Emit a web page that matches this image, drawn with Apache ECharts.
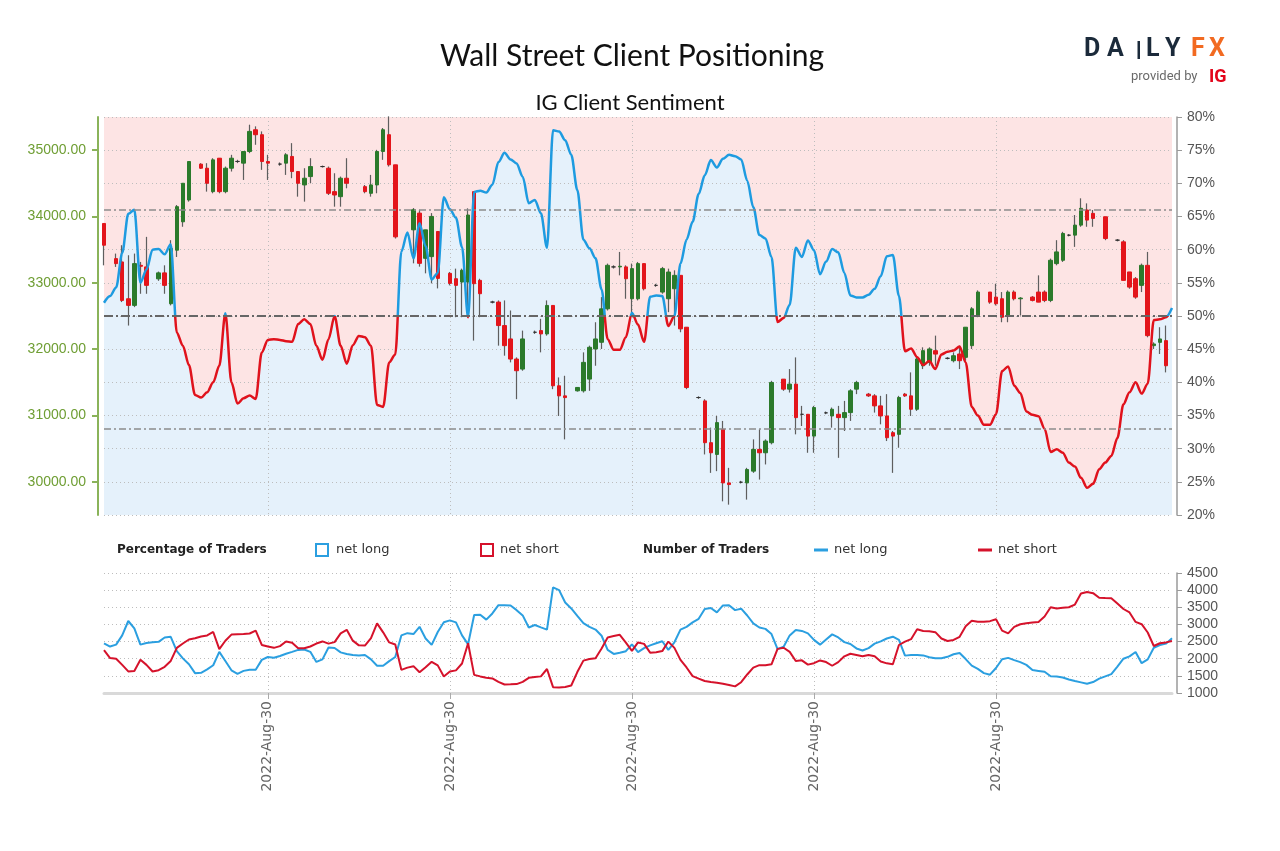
<!DOCTYPE html>
<html><head><meta charset="utf-8">
<script src="https://cdn.jsdelivr.net/npm/echarts@6/dist/echarts.min.js"></script>
<style>html,body{margin:0;padding:0;background:#fff}#c{width:1280px;height:851px}</style>
</head><body><div id="c"></div>
<script>
const chartTitle = 'Wall Street Client Positioning';
const chartSubtitle = 'IG Client Sentiment';
const xTickLabel = '2022-Aug-30';
const xTickIndex = [27, 57, 87, 117, 147];
const priceTicks = [30000, 31000, 32000, 33000, 34000, 35000];

// % of traders net long (0..176 days)
const netLongPct = [52.0,53.0,54.3,59.5,65.4,66.0,55.0,57.0,60.0,60.1,
59.3,60.8,47.5,45.5,42.6,38.1,37.7,38.5,40.0,42.5,
50.4,40.0,36.8,37.6,38.0,37.5,44.5,46.4,46.5,46.4,
46.2,46.1,48.8,49.5,48.8,45.5,43.4,46.5,50.0,45.5,
42.8,45.6,47.0,46.8,45.5,36.6,36.3,43.0,44.2,59.7,
62.6,58.7,64.0,60.5,55.5,56.5,67.9,66.1,64.8,60.4,
49.8,68.7,68.9,68.6,69.8,73.2,74.6,73.6,73.0,71.0,
67.0,67.5,65.5,60.3,78.0,77.8,76.5,74.3,69.0,61.5,
60.2,58.7,54.0,46.5,44.9,44.9,46.8,50.5,48.7,46.1,
52.9,53.1,53.0,48.5,50.0,57.9,61.5,64.2,68.4,71.2,
73.5,72.4,73.7,74.3,74.1,73.6,70.4,66.4,62.2,61.7,
58.9,49.1,49.7,51.7,60.3,58.9,61.4,59.9,56.3,58.2,
60.1,59.6,56.5,53.1,52.8,52.8,53.2,54.1,56.0,59.0,
59.2,53.0,44.7,45.1,43.8,42.6,43.2,42.0,44.2,44.6,
44.8,45.4,43.0,36.3,35.0,33.6,33.6,35.2,41.7,42.4,
39.5,38.4,35.6,35.1,34.9,33.0,29.5,29.9,29.4,27.9,
27.3,25.6,24.1,24.7,26.9,27.9,28.9,31.6,36.7,38.5,
40.0,38.3,39.8,49.4,49.5,49.8,51.2];

// price candles: day index, open, close, low, high
const candleDay = [0,2,3,4,5,6,7,9,10,11,12,13,14,16,17,18,19,20,21,22,23,24,25,26,27,29,30,31,32,33,34,36,37,38,39,40,43,44,45,46,47,48,51,52,53,54,55,57,58,59,60,61,62,64,65,66,67,68,69,71,72,73,74,75,76,78,79,80,81,82,83,84,85,86,87,88,89,91,92,93,94,95,96,98,99,100,101,102,103,105,106,107,108,109,110,112,113,114,115,116,117,119,120,121,122,123,124,126,127,128,129,130,131,132,133,134,135,136,137,139,140,141,142,143,144,146,147,148,149,150,151,153,154,155,156,157,158,159,160,161,162,163,165,167,168,169,170,171,172,173,174,175];
const candleOpen = [33895,33365,33315,32760,32660,33264,33240,33060,33150,32685,33492,33920,34249,34789,34728,34375,34879,34375,34728,34830,34804,34980,35308,35233,34829,34790,34804,34905,34678,34476,34602,34753,34728,34375,34299,34577,34450,34350,34476,34980,35233,34779,33799,34051,33370,33395,33774,33143,33062,33012,33012,34375,33037,32710,32710,32356,32154,31851,31700,32255,32280,32230,32659,31448,31296,31372,31372,31549,32003,32104,32608,33240,33240,33240,32760,32760,33290,32962,32861,32760,32911,33113,32331,31271,31220,30590,30413,30792,29984,29994,29984,30161,30489,30438,30590,31548,31397,31473,31018,31018,30690,31040,30993,31018,30968,31044,31397,31322,31296,31145,30993,30741,30716,31322,31296,31094,31750,31801,31977,31862,31826,31927,31877,32053,32507,32861,32785,32760,32507,32861,32760,32785,32861,32861,32735,33290,33340,33718,33719,33870,34098,34047,33996,33643,33618,33164,33062,32962,33264,32053,32103,32129];
const candleClose = [33567,33290,32735,32660,33290,33250,32962,33150,32962,33517,34148,34501,34829,34728,34501,34854,34375,34728,34879,34830,34980,35283,35233,34829,34804,34790,34930,34678,34501,34577,34753,34753,34350,34324,34577,34501,34375,34476,34980,35308,34779,33693,34102,33294,33799,34001,33067,32992,32962,33189,34022,32987,32836,32710,32356,32053,31851,31675,32154,32255,32230,32659,31448,31296,31270,31423,31801,32028,32154,32608,33264,33240,33250,33062,33214,33290,32911,32962,33214,33163,33113,32306,31422,31271,30590,30438,30893,29984,29959,29994,30186,30489,30438,30615,31498,31397,31473,30968,31018,30690,31120,31040,31094,30968,31044,31372,31498,31296,31145,30993,30665,30690,31271,31296,31094,31851,31977,32003,31926,31862,31901,31826,32331,32608,32861,32709,32684,32482,32861,32760,32770,32735,32709,32735,33340,33466,33744,33718,33870,34123,33946,33971,33668,33643,33037,32936,32785,33264,32204,32078,32154,31750];
const candleLow = [33264,33240,32710,32356,32634,32835,32835,33030,32835,32660,33390,33845,34224,34718,34375,34350,34350,34350,34678,34805,34551,34955,35081,34703,34551,34765,34627,34577,34299,34224,34501,34738,34324,34148,34148,34425,34350,34299,34350,34854,34753,33668,33294,33244,33143,32992,32916,32962,32482,32482,32482,32129,32482,32690,32053,31902,31801,31246,31675,32230,31952,32204,31397,30993,30640,31360,31346,31372,31750,32003,32583,33215,33113,32760,32508,32735,32886,32940,32836,32558,32356,32255,31397,31250,30413,30135,30161,29706,29656,29975,29732,30135,30034,30262,30565,31372,31346,30716,30842,30438,30438,31020,30817,30362,30766,30918,31322,31280,31044,30867,30615,30135,30514,31280,30993,31069,31700,31750,31750,31845,31801,31700,31826,32003,32482,32684,32659,32406,32406,32735,32507,32720,32709,32709,32709,33264,33315,33700,33542,33845,33845,33845,33643,33625,33037,32911,32760,32861,32179,32003,31927,31650];
const candleHigh = [33895,33441,33567,33416,33441,33315,33693,33170,33264,33643,34173,34501,34829,34804,34804,34879,34879,34753,34930,34855,34980,35384,35359,35283,34930,34815,34955,35106,34678,34728,34879,34768,34753,34652,34602,34879,34475,34627,35005,35334,35510,34779,34127,34102,33799,34051,33774,33164,33214,33214,34123,34375,33062,32730,32735,32735,32583,31876,32280,32280,32457,32735,32659,31574,31599,31430,31952,32053,32406,32785,33290,33265,33466,33264,33290,33315,33290,32985,33240,33214,33189,33113,32331,31290,31246,30817,30993,30918,30211,30015,30211,30640,30791,30640,31523,31548,31700,31876,31145,31018,31145,31060,31120,31145,31220,31397,31523,31340,31322,31296,31322,30766,31296,31340,31650,31902,32028,32028,32204,31880,31952,32053,32331,32634,32886,32861,32987,32861,32886,32886,32785,32800,33113,32886,33365,33643,33769,33735,34022,34274,34198,34098,33996,33660,33643,33164,33087,33290,33466,32103,32331,32356];

// number of traders
const netLongCount = [2450,2355,2410,2680,3100,2885,2410,2460,2479,2492,
2620,2640,2220,2010,1840,1579,1590,1690,1810,2200,
1935,1662,1560,1645,1676,1676,1966,2050,2027,2080,
2145,2200,2257,2270,2200,1907,1980,2325,2312,2185,
2140,2107,2094,2110,1980,1793,1795,1930,2050,2680,
2745,2720,2930,2590,2402,2780,3062,3118,3060,2680,
2420,3277,3285,3140,3320,3562,3562,3550,3417,3263,
2910,2982,2915,2850,4080,4000,3640,3466,3250,3040,
2928,2850,2670,2260,2140,2173,2220,2420,2190,2310,
2390,2450,2510,2260,2480,2850,2930,3060,3163,3450,
3480,3350,3555,3560,3417,3460,3260,3030,2910,2870,
2720,2280,2350,2680,2840,2810,2740,2550,2410,2560,
2710,2620,2485,2430,2300,2240,2310,2440,2505,2590,
2643,2550,2090,2111,2111,2097,2045,2015,2015,2055,
2130,2165,1990,1800,1705,1580,1535,1730,1985,2025,
1960,1900,1820,1670,1645,1620,1490,1483,1450,1395,
1350,1310,1270,1320,1420,1485,1550,1770,2000,2070,
2195,1870,1980,2320,2400,2440,2595];
const netShortCount = [2250,2020,1998,1820,1630,1640,1970,1820,1628,1665,
1765,1935,2315,2444,2560,2595,2650,2680,2780,2280,
2525,2703,2711,2718,2735,2818,2402,2357,2317,2367,
2500,2463,2305,2305,2356,2443,2504,2440,2484,2740,
2843,2527,2390,2382,2600,3030,2770,2475,2413,1676,
1740,1783,1603,1752,1910,1806,1480,1628,1660,1860,
2450,1529,1484,1447,1426,1325,1248,1252,1260,1326,
1442,1466,1485,1700,1170,1163,1175,1218,1610,1945,
1990,2012,2300,2617,2660,2697,2470,2230,2475,2433,
2177,2189,2222,2500,2315,1965,1745,1492,1420,1350,
1318,1297,1270,1236,1193,1315,1540,1740,1812,1810,
1838,2287,2320,2200,1935,1952,1828,1870,1950,1902,
1795,1900,2070,2144,2110,2070,2110,2070,1920,1865,
1840,2400,2500,2570,2860,2808,2800,2775,2590,2516,
2547,2640,2950,3110,3079,3079,3096,3150,2820,2740,
2928,3006,3035,3056,3071,3230,3503,3467,3484,3500,
3580,3903,3945,3912,3778,3770,3763,3610,3450,3350,
3073,3007,2765,2370,2450,2476,2518];

const days = netLongPct.map((_, i) => String(i));
const wickData = candleDay.map((d, k) => [d, candleOpen[k], candleClose[k], candleLow[k], candleHigh[k]]);
const bodyData = candleDay.map((d, k) => [d, candleOpen[k], candleClose[k], Math.min(candleOpen[k], candleClose[k]), Math.max(candleOpen[k], candleClose[k])]);
const isTick = (idx) => xTickIndex.indexOf(idx) >= 0;

const BLUE = '#1e9be0', RED = '#e0121c';
const GRID_TOP = 117, GRID_H = 398, PCT_MIN = 20, PCT_MAX = 80, SPLIT = 50;
const splitFrac = (PCT_MAX - SPLIT) / (PCT_MAX - PCT_MIN);
const lineGradient = new echarts.graphic.LinearGradient(0, GRID_TOP, 0, GRID_TOP + GRID_H, [
  { offset: 0, color: BLUE }, { offset: splitFrac, color: BLUE },
  { offset: splitFrac, color: RED }, { offset: 1, color: RED }
], true);

const chart = echarts.init(document.getElementById('c'));
const dotted = { type: [1, 3], color: '#bdbdbd', width: 1 };
const SMOOTH = 0.3;

chart.setOption({
  animation: false,
  backgroundColor: '#fff',
  grid: [
    { left: 104, top: GRID_TOP, width: 1068, height: GRID_H, show: true, backgroundColor: '#fde4e4', borderWidth: 0 },
    { left: 104, top: 573, width: 1068, height: 120, show: false }
  ],
  xAxis: [
    { type: 'category', gridIndex: 0, data: days, boundaryGap: false, z: 2,
      axisLine: { show: false }, axisTick: { show: false }, axisLabel: { show: false },
      splitLine: { show: true, interval: isTick, lineStyle: dotted } },
    { type: 'category', gridIndex: 1, data: days, boundaryGap: false,
      axisLine: { show: true, lineStyle: { color: '#d9d9d9', width: 3 } },
      axisTick: { show: true, interval: isTick, length: 6, lineStyle: { color: '#aaa' } },
      axisLabel: { show: true, interval: isTick, rotate: 90, formatter: () => xTickLabel,
        fontFamily: 'DejaVu Sans', fontSize: 14, color: '#666', margin: 8 },
      splitLine: { show: true, interval: isTick, lineStyle: dotted } }
  ],
  yAxis: [
    { type: 'value', gridIndex: 0, position: 'left', offset: 6, min: 29500, max: 35500,
      axisLine: { show: true, lineStyle: { color: '#8ab35a', width: 2 } },
      axisTick: { show: true, customValues: priceTicks, length: 6, lineStyle: { color: '#8ab35a', width: 2 } },
      axisLabel: { customValues: priceTicks, formatter: v => Number(v).toFixed(2), color: '#6f9e34',
        fontFamily: 'Liberation Sans', fontSize: 14, margin: 12 },
      splitLine: { show: false } },
    { type: 'value', gridIndex: 0, position: 'right', offset: 5, min: PCT_MIN, max: PCT_MAX, interval: 5, z: 2,
      axisLine: { show: true, lineStyle: { color: '#9a9a9a', width: 1.5 } },
      axisTick: { show: true, length: 5, lineStyle: { color: '#9a9a9a' } },
      axisLabel: { formatter: '{value}%', color: '#555', fontFamily: 'Liberation Sans', fontSize: 14, margin: 10 },
      splitLine: { show: true, lineStyle: dotted } },
    { type: 'value', gridIndex: 1, position: 'right', offset: 5, min: 1000, max: 4500, interval: 500,
      axisLine: { show: true, lineStyle: { color: '#9a9a9a', width: 1.5 } },
      axisTick: { show: true, length: 5, lineStyle: { color: '#9a9a9a' } },
      axisLabel: { formatter: v => String(v), color: '#555', fontFamily: 'Liberation Sans', fontSize: 14, margin: 10 },
      splitLine: { show: true, lineStyle: dotted } }
  ],
  series: [
    { name: 'fill', type: 'line', xAxisIndex: 0, yAxisIndex: 1, data: netLongPct, symbol: 'none', z: 1, silent: true,
      smooth: SMOOTH, smoothMonotone: 'x',
      lineStyle: { width: 0 }, areaStyle: { color: '#e5f1fb', opacity: 1, origin: 'start' },
      markLine: { symbol: 'none', silent: true, label: { show: false },
        data: [
          { yAxis: 50, lineStyle: { color: '#666', width: 2, type: [9, 3, 2, 3] } },
          { yAxis: 66, lineStyle: { color: '#8c8c8c', width: 1.5, type: [7, 3, 2, 3] } },
          { yAxis: 33, lineStyle: { color: '#8c8c8c', width: 1.5, type: [7, 3, 2, 3] } }
        ] } },
    { name: 'wick', type: 'candlestick', xAxisIndex: 0, yAxisIndex: 0, data: wickData, encode: { x: 0, y: [1, 2, 3, 4] },
      barWidth: 1, z: 3,
      itemStyle: { color: '#5e5e5e', color0: '#5e5e5e', borderColor: '#5e5e5e', borderColor0: '#5e5e5e', borderColorDoji: '#5e5e5e', borderWidth: 1.2 } },
    { name: 'body', type: 'candlestick', xAxisIndex: 0, yAxisIndex: 0, data: bodyData, encode: { x: 0, y: [1, 2, 3, 4] },
      barWidth: 4, z: 3,
      itemStyle: { color: '#2b7a2b', color0: '#e3151b', borderColor: '#2b7a2b', borderColor0: '#e3151b', borderColorDoji: '#333', borderWidth: 1 } },
    { name: 'net long %', type: 'line', xAxisIndex: 0, yAxisIndex: 1, data: netLongPct, symbol: 'none', z: 4,
      smooth: SMOOTH, smoothMonotone: 'x',
      lineStyle: { width: 2.5, color: lineGradient } },
    { name: 'net long', type: 'line', xAxisIndex: 1, yAxisIndex: 2, data: netLongCount, symbol: 'none', z: 4,
      lineStyle: { width: 2, color: '#2b9fe0' }, itemStyle: { color: '#2b9fe0' } },
    { name: 'net short', type: 'line', xAxisIndex: 1, yAxisIndex: 2, data: netShortCount, symbol: 'none', z: 4,
      lineStyle: { width: 2, color: '#d5122b' }, itemStyle: { color: '#d5122b' } }
  ],
  graphic: [
    { type: 'text', x: 632, y: 56, style: { text: chartTitle, font: '30px Lato', fill: '#111', align: 'center', verticalAlign: 'middle' } },
    { type: 'text', x: 630, y: 103, style: { text: chartSubtitle, font: '22px Lato', fill: '#111', align: 'center', verticalAlign: 'middle' } },
    { type: 'text', x: 1084, y: 50, style: { text: 'D', font: 'bold 25px Roboto', fill: '#1b2a3a', verticalAlign: 'middle' } },
    { type: 'text', x: 1107, y: 50, style: { text: 'A', font: 'bold 25px Roboto', fill: '#1b2a3a', verticalAlign: 'middle' } },
    { type: 'rect', shape: { x: 1137.5, y: 41, width: 2.5, height: 18 }, style: { fill: '#1b2a3a' } },
    { type: 'text', x: 1146, y: 50, style: { text: 'L', font: 'bold 25px Roboto', fill: '#1b2a3a', verticalAlign: 'middle' } },
    { type: 'text', x: 1165, y: 50, style: { text: 'Y', font: 'bold 25px Roboto', fill: '#1b2a3a', verticalAlign: 'middle' } },
    { type: 'text', x: 1191, y: 50, style: { text: 'F', font: 'bold 25px Roboto', fill: '#f26a21', verticalAlign: 'middle' } },
    { type: 'text', x: 1209, y: 50, style: { text: 'X', font: 'bold 25px Roboto', fill: '#f26a21', verticalAlign: 'middle' } },
    { type: 'text', x: 1131, y: 77, style: { text: 'provided by', font: '13px Roboto', fill: '#6a6a6a', verticalAlign: 'middle' } },
    { type: 'text', x: 1209, y: 77, style: { text: 'IG', font: 'bold 18px Roboto', fill: '#e3051b', verticalAlign: 'middle' } },
    { type: 'text', x: 117, y: 550, style: { text: 'Percentage of Traders', font: 'bold 12px "DejaVu Sans"', fill: '#222', verticalAlign: 'middle' } },
    { type: 'rect', shape: { x: 316, y: 544, width: 12, height: 12 }, style: { fill: '#fff', stroke: '#2b9fe0', lineWidth: 2 } },
    { type: 'text', x: 336, y: 550, style: { text: 'net long', font: '13px "DejaVu Sans"', fill: '#333', verticalAlign: 'middle' } },
    { type: 'rect', shape: { x: 481, y: 544, width: 12, height: 12 }, style: { fill: '#fff', stroke: '#d5122b', lineWidth: 2 } },
    { type: 'text', x: 500, y: 550, style: { text: 'net short', font: '13px "DejaVu Sans"', fill: '#333', verticalAlign: 'middle' } },
    { type: 'text', x: 643, y: 550, style: { text: 'Number of Traders', font: 'bold 12px "DejaVu Sans"', fill: '#222', verticalAlign: 'middle' } },
    { type: 'line', shape: { x1: 814, y1: 550, x2: 828, y2: 550 }, style: { stroke: '#2b9fe0', lineWidth: 3 } },
    { type: 'text', x: 834, y: 550, style: { text: 'net long', font: '13px "DejaVu Sans"', fill: '#333', verticalAlign: 'middle' } },
    { type: 'line', shape: { x1: 978, y1: 550, x2: 992, y2: 550 }, style: { stroke: '#d5122b', lineWidth: 3 } },
    { type: 'text', x: 998, y: 550, style: { text: 'net short', font: '13px "DejaVu Sans"', fill: '#333', verticalAlign: 'middle' } }
  ]
});
</script>
</body></html>
